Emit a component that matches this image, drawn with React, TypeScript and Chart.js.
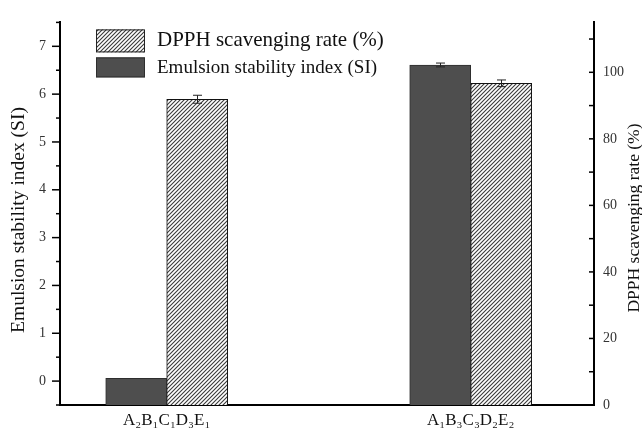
import React, { useEffect, useRef } from "react";
import { Chart, registerables } from "chart.js";

Chart.register(...registerables);

// ---- data ----
const categories = ["A₂B₁C₁D₃E₁", "A₁B₃C₃D₂E₂"];
const categoryPositions = [1, 2];
const esiValues = [0.06, 6.61];
const esiErrors = [0, 0.04];
const dpphValues = [91.9, 96.7];
const dpphErrors = [1.2, 1.0];
const leftAxisTitle = "Emulsion stability index (SI)";
const rightAxisTitle = "DPPH scavenging rate (%)";
const esiLabel = "Emulsion stability index (SI)";
const dpphLabel = "DPPH scavenging rate (%)";

const SERIF = "'Liberation Serif', 'Times New Roman', serif";
const DARK_FILL = "#4e4e4e";
const DARK_BORDER = "#2e2e2e";

function makeHatch(): CanvasPattern | string {
  const c = document.createElement("canvas");
  c.width = 4;
  c.height = 4;
  const g = c.getContext("2d");
  if (!g) return "#bbb";
  g.fillStyle = "#ffffff";
  g.fillRect(0, 0, 4, 4);
  g.strokeStyle = "#3a3a3a";
  g.lineWidth = 1.1;
  g.beginPath();
  g.moveTo(-1, 5);
  g.lineTo(5, -1);
  g.moveTo(-1, 1);
  g.lineTo(1, -1);
  g.moveTo(3, 5);
  g.lineTo(5, 3);
  g.stroke();
  return g.createPattern(c, "repeat") || "#bbb";
}

const errorBarPlugin = {
  id: "errorBars",
  afterDatasetsDraw(chart: any) {
    const ctx = chart.ctx;
    ctx.save();
    ctx.strokeStyle = "#222";
    ctx.lineWidth = 1;
    chart.data.datasets.forEach((ds: any, d: number) => {
      const meta = chart.getDatasetMeta(d);
      const scale = chart.scales[ds.yAxisID];
      const errs: number[] = ds.errors || [];
      meta.data.forEach((el: any, i: number) => {
        const e = errs[i];
        if (!e) return;
        const v = ds.data[i].y;
        const yTop = scale.getPixelForValue(v + e);
        const yBot = scale.getPixelForValue(v - e);
        const x = Math.round(el.x) + 0.5;
        ctx.beginPath();
        ctx.moveTo(x, yTop);
        ctx.lineTo(x, yBot);
        ctx.moveTo(x - 4.5, yTop);
        ctx.lineTo(x + 4.5, yTop);
        ctx.moveTo(x - 4.5, yBot);
        ctx.lineTo(x + 4.5, yBot);
        ctx.stroke();
      });
    });
    ctx.restore();
  },
};

const decorPlugin = {
  id: "decor",
  afterDraw(chart: any) {
    const ctx = chart.ctx;
    const area = chart.chartArea;
    const yL = chart.scales.y;
    const yR = chart.scales.y1;
    ctx.save();
    // tick marks
    ctx.strokeStyle = "#000";
    ctx.lineWidth = 1.5;
    yL.ticks.forEach((t: any) => {
      const p = yL.getPixelForValue(t.value);
      const major = Math.abs(t.value - Math.round(t.value)) < 1e-6;
      const len = major ? 8 : 4;
      ctx.beginPath();
      ctx.moveTo(area.left - len, p);
      ctx.lineTo(area.left, p);
      ctx.stroke();
    });
    yR.ticks.forEach((t: any) => {
      if (Math.abs(t.value / 10 - Math.round(t.value / 10)) > 1e-6) return;
      const p = yR.getPixelForValue(t.value);
      ctx.beginPath();
      ctx.moveTo(area.right - 5, p);
      ctx.lineTo(area.right, p);
      ctx.stroke();
    });

    // axis titles (both read bottom-to-top)
    ctx.fillStyle = "#111";
    ctx.textAlign = "center";
    ctx.textBaseline = "middle";
    ctx.save();
    ctx.translate(18.5, 220);
    ctx.rotate(-Math.PI / 2);
    ctx.font = `19.5px ${SERIF}`;
    ctx.fillText(leftAxisTitle, 0, 0);
    ctx.restore();
    ctx.save();
    ctx.translate(634, 218);
    ctx.rotate(-Math.PI / 2);
    ctx.font = `17.5px ${SERIF}`;
    ctx.fillText(rightAxisTitle, 0, 0);
    ctx.restore();

    // legend
    const ds = chart.data.datasets;
    const bx = area.left + 36;
    const by = area.top + 7;
    ctx.fillStyle = ds[1].backgroundColor;
    ctx.fillRect(bx, by, 49, 23);
    ctx.strokeStyle = "#222";
    ctx.lineWidth = 1;
    ctx.strokeRect(bx + 0.5, by + 0.5, 48, 22);
    ctx.fillStyle = DARK_FILL;
    ctx.fillRect(bx, by + 28, 49, 20);
    ctx.strokeStyle = DARK_BORDER;
    ctx.strokeRect(bx + 0.5, by + 28.5, 48, 19);
    ctx.fillStyle = "#111";
    ctx.textAlign = "left";
    ctx.font = `21px ${SERIF}`;
    ctx.fillText(ds[1].label, bx + 61, by + 11);
    ctx.font = `19px ${SERIF}`;
    ctx.fillText(ds[0].label, bx + 61, by + 39);
    ctx.restore();
  },
};

export default function App() {
  const ref = useRef<HTMLCanvasElement | null>(null);

  useEffect(() => {
    if (!ref.current) return;
    const hatch = makeHatch();
    const chart = new Chart(ref.current, {
      type: "bar",
      data: {
        datasets: [
          {
            label: esiLabel,
            data: categoryPositions.map((x, i) => ({ x, y: esiValues[i] })),
            errors: esiErrors,
            yAxisID: "y",
            base: -0.5,
            backgroundColor: DARK_FILL,
            borderColor: DARK_BORDER,
            borderWidth: 1,
            barThickness: 61,
          } as any,
          {
            label: dpphLabel,
            data: categoryPositions.map((x, i) => ({ x, y: dpphValues[i] })),
            errors: dpphErrors,
            yAxisID: "y1",
            backgroundColor: hatch,
            borderColor: "#111",
            borderWidth: 1,
            barThickness: 61,
          } as any,
        ],
      },
      options: {
        animation: false,
        responsive: true,
        maintainAspectRatio: false,
        layout: { padding: { top: 13, left: 0, right: 0, bottom: 0 } },
        plugins: {
          legend: { display: false },
          tooltip: { enabled: false },
        },
        scales: {
          x: {
            type: "linear",
            min: 0.649,
            max: 2.4056,
            offset: false,
            grid: { display: false, drawTicks: false },
            border: { display: true, color: "#000", width: 2 },
            afterBuildTicks: (s: any) => {
              s.ticks = categoryPositions.map((v) => ({ value: v }));
            },
            afterFit: (s: any) => {
              s.height = 32;
            },
            ticks: {
              padding: 5,
              color: "#111",
              font: { family: SERIF, size: 17 },
              maxRotation: 0,
              autoSkip: false,
              callback: (v: any) => {
                const i = categoryPositions.indexOf(Number(v));
                return i >= 0 ? categories[i] : "";
              },
            },
          },
          y: {
            type: "linear",
            position: "left",
            min: -0.5,
            max: 7.5,
            grid: { display: false, drawTicks: false },
            border: { display: true, color: "#000", width: 2 },
            afterFit: (s: any) => {
              s.width = 60;
            },
            ticks: {
              stepSize: 0.5,
              padding: 14,
              color: "#333",
              font: { family: SERIF, size: 14 },
              autoSkip: false,
              callback: (v: any) =>
                Math.abs(v - Math.round(v)) < 1e-6 ? String(Math.round(v)) : "",
            },
          },
          y1: {
            type: "linear",
            position: "right",
            min: 0,
            max: 115,
            grid: { display: false, drawTicks: false },
            border: { display: true, color: "#000", width: 2 },
            afterFit: (s: any) => {
              s.width = 48;
            },
            ticks: {
              stepSize: 10,
              padding: 9,
              color: "#333",
              font: { family: SERIF, size: 14 },
              autoSkip: false,
              callback: (v: any) =>
                Math.abs(v / 20 - Math.round(v / 20)) < 1e-6 ? String(v) : "",
            },
          },
        },
      } as any,
      plugins: [errorBarPlugin, decorPlugin],
    });
    return () => chart.destroy();
  }, []);

  return (
    <div
      style={{
        position: "absolute",
        left: 0,
        top: 0,
        width: 642,
        height: 437,
        background: "#fff",
      }}
    >
      <canvas ref={ref} />
    </div>
  );
}
